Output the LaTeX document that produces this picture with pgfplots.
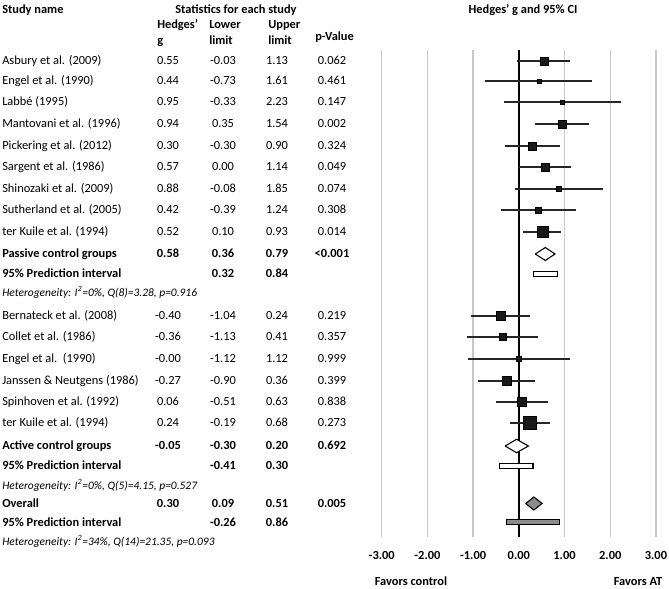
\documentclass[border=0pt]{standalone}
\usepackage{pgfplots}
\pgfplotsset{compat=1.18}
\usepackage{pgfplotstable}
\usepackage{fontspec}
\setmainfont{Carlito}
\definecolor{gridc}{HTML}{C8C8C8}
\definecolor{sumgray}{HTML}{8C8C8C}

\pgfplotstableread{
g lo hi y s
0.55 -0.03 1.13 61 4.0
0.44 -0.73 1.61 81 2.0
0.95 -0.33 2.23 102 2.0
0.94 0.35 1.54 124 4.0
0.30 -0.30 0.90 146 4.0
0.57 0.00 1.14 167 4.0
0.88 -0.08 1.85 189 2.4
0.42 -0.39 1.24 210 3.0
0.52 0.10 0.93 232 5.5
-0.40 -1.04 0.24 316 4.5
-0.36 -1.13 0.41 337 3.5
-0.00 -1.12 1.12 359 2.3
-0.27 -0.90 0.36 381 4.5
0.06 -0.51 0.63 402 4.7
0.24 -0.19 0.68 423 6.3
}\studies

\begin{document}
\begin{tikzpicture}[every node/.style={font=\fontsize{9.3}{11}\selectfont}]
\begin{axis}[
  scale only axis,
  width=205.7pt, height=365.25pt,
  xmin=-3, xmax=3, ymin=50, ymax=537,
  y dir=reverse,
  axis line style={draw=none},
  major tick length=0pt,
  ytick=\empty,
  xtick={-3,-2,-1,0,1,2,3},
  xticklabels={-3.00,-2.00,-1.00,0.00,1.00,2.00,3.00},
  xticklabel style={font=\fontsize{9.3}{11}\selectfont\bfseries, anchor=center, yshift=-13.5pt},
  xmajorgrids,
  grid style={color=gridc, line width=1.1pt},
  clip=false,
]
\addplot[black, line width=1.1pt] coordinates {(0,50) (0,537)};
\addplot[scatter, only marks, mark=square*,
  scatter/use mapped color={draw=black, fill=black!90},
  visualization depends on={0.75*\thisrow{s} \as \ms},
  scatter/@pre marker code/.append style={/tikz/mark size=\ms},
  error bars/.cd, x dir=both, x explicit, error mark=none,
  error bar style={line width=0.9pt, black!85}]
  table[x=g, y=y, x error plus expr=\thisrow{hi}-\thisrow{g}, x error minus expr=\thisrow{g}-\thisrow{lo}] {\studies};
% passive summary
\addplot[draw=black, fill=white, line width=0.8pt] coordinates {(0.36,254) (0.58,247.5) (0.79,254) (0.58,260.5) (0.36,254)};
\addplot[draw=black, fill=white, line width=0.8pt] coordinates {(0.32,271.7) (0.84,271.7) (0.84,276.7) (0.32,276.7) (0.32,271.7)};
% active summary
\addplot[draw=black, fill=white, line width=0.8pt] coordinates {(-0.30,446) (-0.05,439.3) (0.21,446) (-0.05,452.7) (-0.30,446)};
\addplot[draw=black, fill=white, line width=0.8pt] coordinates {(-0.43,463.2) (0.31,463.2) (0.31,468.2) (-0.43,468.2) (-0.43,463.2)};
% overall
\addplot[draw=black, fill=sumgray, line width=0.8pt] coordinates {(0.15,503.5) (0.33,497) (0.51,503.5) (0.33,510) (0.15,503.5)};
\addplot[draw=black, fill=sumgray, line width=0.8pt] coordinates {(-0.27,519.5) (0.88,519.5) (0.88,524.8) (-0.27,524.8) (-0.27,519.5)};
\end{axis}

\begin{scope}[x=0.75pt, y=-0.75pt, shift={(-381.7,-537)}]
\newcommand{\Lt}[3]{\node[anchor=base west, inner sep=0pt] at (#1,#2+4) {#3};}
\newcommand{\Ct}[3]{\node[anchor=base, inner sep=0pt] at (#1,#2+4) {#3};}
\newcommand{\Row}[6]{\Lt{2}{#1}{#2}\Ct{168}{#1}{#3}\Ct{223}{#1}{#4}\Ct{277}{#1}{#5}\Ct{332}{#1}{#6}}
\newcommand{\Het}[2]{\node[anchor=base west, inner sep=0pt, font=\fontsize{8.6}{10}\selectfont\itshape] at (2,#1+4) {#2};}
% headers
\Lt{2}{10}{\textbf{Study name}}
\Ct{236}{10}{\textbf{Statistics for each study}}
\Ct{523}{10}{\textbf{Hedges' g and 95\% CI}}
\Lt{157}{25}{\textbf{Hedges'}}
\Lt{157}{41}{\textbf{g}}
\Lt{209}{25}{\textbf{Lower}}
\Lt{209}{41}{\textbf{limit}}
\Lt{268}{25}{\textbf{Upper}}
\Lt{268}{41}{\textbf{limit}}
\Lt{315}{37}{\textbf{p-Value}}
% passive
\Row{61}{Asbury et al. (2009)}{0.55}{-0.03}{1.13}{0.062}
\Row{81}{Engel et al. (1990)}{0.44}{-0.73}{1.61}{0.461}
\Row{102}{Labbé (1995)}{0.95}{-0.33}{2.23}{0.147}
\Row{124}{Mantovani et al. (1996)}{0.94}{0.35}{1.54}{0.002}
\Row{146}{Pickering et al. (2012)}{0.30}{-0.30}{0.90}{0.324}
\Row{167}{Sargent et al. (1986)}{0.57}{0.00}{1.14}{0.049}
\Row{189}{Shinozaki et al. (2009)}{0.88}{-0.08}{1.85}{0.074}
\Row{210}{Sutherland et al. (2005)}{0.42}{-0.39}{1.24}{0.308}
\Row{232}{ter Kuile et al. (1994)}{0.52}{0.10}{0.93}{0.014}
\Row{254}{\textbf{Passive control groups}}{\textbf{0.58}}{\textbf{0.36}}{\textbf{0.79}}{\textbf{<0.001}}
\Row{274}{\textbf{95\% Prediction interval}}{}{\textbf{0.32}}{\textbf{0.84}}{}
\Het{293}{Heterogeneity: I\textsuperscript{2}=0\%, Q(8)=3.28, p=0.916}
% active
\Row{316}{Bernateck et al. (2008)}{-0.40}{-1.04}{0.24}{0.219}
\Row{337}{Collet et al. (1986)}{-0.36}{-1.13}{0.41}{0.357}
\Row{359}{Engel et al.\ \ (1990)}{-0.00}{-1.12}{1.12}{0.999}
\Row{381}{Janssen \& Neutgens (1986)}{-0.27}{-0.90}{0.36}{0.399}
\Row{402}{Spinhoven et al. (1992)}{0.06}{-0.51}{0.63}{0.838}
\Row{423}{ter Kuile et al. (1994)}{0.24}{-0.19}{0.68}{0.273}
\Row{446}{\textbf{Active control groups}}{\textbf{-0.05}}{\textbf{-0.30}}{\textbf{0.20}}{\textbf{0.692}}
\Row{466}{\textbf{95\% Prediction interval}}{}{\textbf{-0.41}}{\textbf{0.30}}{}
\Het{486}{Heterogeneity: I\textsuperscript{2}=0\%, Q(5)=4.15, p=0.527}
% overall
\Row{504}{\textbf{Overall}}{\textbf{0.30}}{\textbf{0.09}}{\textbf{0.51}}{\textbf{0.005}}
\Row{523}{\textbf{95\% Prediction interval}}{}{\textbf{-0.26}}{\textbf{0.86}}{}
\Het{542}{Heterogeneity: I\textsuperscript{2}=34\%, Q(14)=21.35, p=0.093}
% favors
\Ct{411}{582}{\textbf{Favors control}}
\Ct{638}{582}{\textbf{Favors AT}}
\pgfresetboundingbox
\path[use as bounding box] (0,0) rectangle (669,589);
\end{scope}
\end{tikzpicture}
\end{document}
